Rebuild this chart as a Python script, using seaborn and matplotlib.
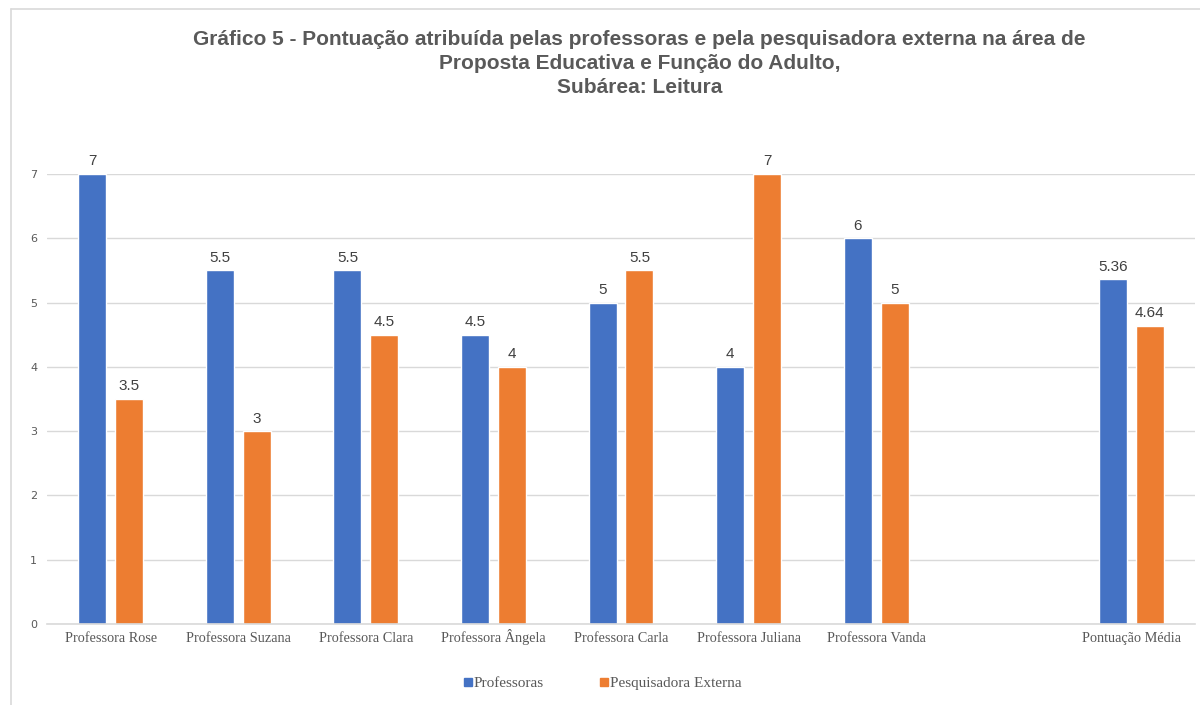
import pandas as pd
import numpy as np
import matplotlib
matplotlib.use("Agg")
import matplotlib.pyplot as plt
from matplotlib.lines import Line2D
import seaborn as sns

# Dados do gráfico
categorias = ["Professora Rose", "Professora Suzana", "Professora Clara",
              "Professora Ângela", "Professora Carla", "Professora Juliana",
              "Professora Vanda", "Pontuação Média"]
ordem = categorias[:7] + [""] + categorias[7:]
professoras = [7, 5.5, 5.5, 4.5, 5, 4, 6, 5.36]
pesquisadora = [3.5, 3, 4.5, 4, 5.5, 7, 5, 4.64]
series = ["Professoras", "Pesquisadora Externa"]
cores = ["#4472C4", "#ED7D31"]

df = pd.DataFrame({
    "Categoria": categorias * 2,
    "Pontuação": professoras + pesquisadora,
    "Série": [series[0]] * len(categorias) + [series[1]] * len(categorias),
})

sns.set_style("white")
fig = plt.figure(figsize=(12, 7.05), dpi=100)
ax = fig.add_axes([47 / 1200, 1 - 624 / 705, 1148 / 1200, 450 / 705])

sns.barplot(data=df, x="Categoria", y="Pontuação", hue="Série", order=ordem,
            hue_order=series, palette=cores, width=0.578, gap=0.24,
            saturation=1, errorbar=None, ax=ax, legend=False)

for cont in ax.containers:
    ax.bar_label(cont, fmt="%g", padding=4, fontsize=11, color="#404040",
                 family="Liberation Sans", clip_on=False)

ax.set_ylim(0, 7)
ax.set_xlim(-0.5, len(ordem) - 0.5)
ax.set_yticks(range(0, 8))
ax.grid(axis="y", color="#D9D9D9", linewidth=1)
ax.set_axisbelow(True)
for s in ["top", "right", "left"]:
    ax.spines[s].set_visible(False)
ax.spines["bottom"].set_color("#D9D9D9")
ax.spines["bottom"].set_linewidth(1.2)
ax.tick_params(axis="y", labelsize=8, colors="#595959", length=0, pad=7)
ax.tick_params(axis="x", length=0, pad=13)
for lbl in ax.get_xticklabels():
    lbl.set_fontfamily("Liberation Serif")
    lbl.set_fontsize(10.3)
    lbl.set_color("#595959")
    lbl.set_verticalalignment("baseline")
ax.set_xlabel("")
ax.set_ylabel("")

fig.text(0.533, 0.958,
         "Gráfico 5 - Pontuação atribuída pelas professoras e pela pesquisadora externa na área de\n"
         "Proposta Educativa e Função do Adulto,\nSubárea: Leitura",
         ha="center", va="top", fontsize=15, fontweight="bold", color="#595959",
         family="Liberation Sans", linespacing=1.33)

handles = [Line2D([], [], marker="s", linestyle="", markersize=6, color=c) for c in cores]
leg = fig.legend(handles, series, loc="center", bbox_to_anchor=(0.5, 1 - 683 / 705),
                 ncol=2, frameon=False, handletextpad=-0.2, columnspacing=3.3,
                 handlelength=1.2, prop={"family": "Liberation Serif", "size": 11})
for t in leg.get_texts():
    t.set_color("#595959")

# moldura do gráfico
fig.add_artist(Line2D([11 / 1200, 1], [1 - 9 / 705, 1 - 9 / 705], color="#D9D9D9", lw=1.2))
fig.add_artist(Line2D([11 / 1200, 11 / 1200], [0, 1 - 9 / 705], color="#D9D9D9", lw=1.2))

fig.savefig("out.png", dpi=100)
